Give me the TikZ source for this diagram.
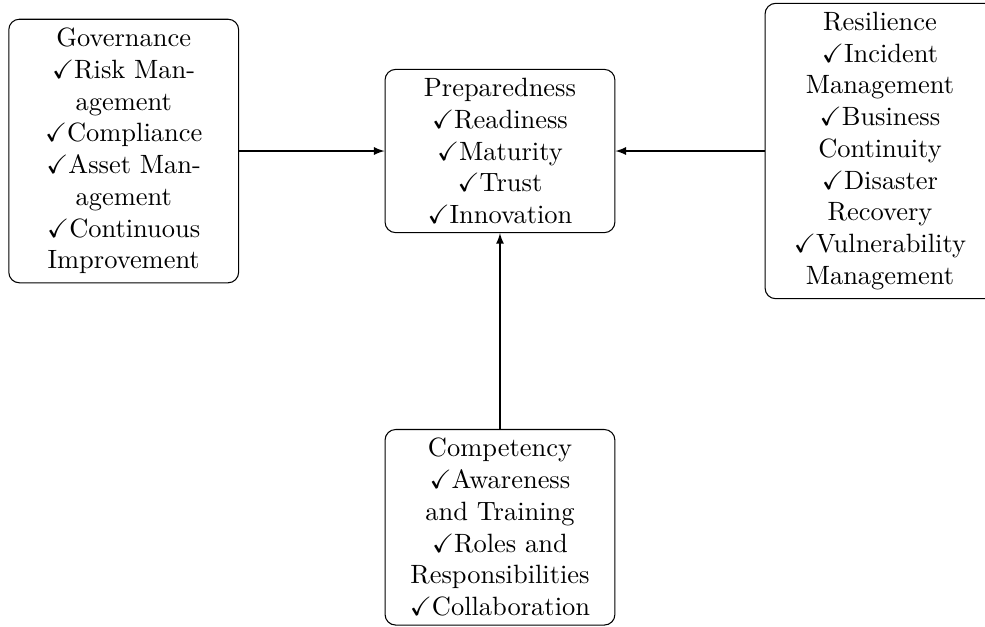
\documentclass[tikz,border=0pt]{standalone}
\usepackage{amssymb}
\usetikzlibrary{arrows}
\begin{document}
\begin{tikzpicture}[
  box/.style={draw, rounded corners, align=center, text width=2.82cm, line width=0.4pt},
  conn/.style={-latex, line width=0.4pt}
]
\useasboundingbox (-6.644cm,2.007cm) rectangle (6.445cm,-6.324cm);
\node[box] (prep) at (0,0) {Preparedness\\\checkmark Readiness\\\checkmark Maturity\\\checkmark Trust\\\checkmark Innovation};
\node[box] (gov) at (-5,0) {Governance\\\checkmark Risk Man-\\agement\\\checkmark Compliance\\\checkmark Asset Man-\\agement\\\checkmark Continuous\\Improvement};
\node[box] (res) at (5.05,0) {Resilience\\\checkmark Incident\\Management\\\checkmark Business\\Continuity\\\checkmark Disaster\\Recovery\\\checkmark Vulnerability\\Management};
\node[box] (comp) at (0,-5) {Competency\\\checkmark Awareness\\and Training\\\checkmark Roles and\\Responsibilities\\\checkmark Collaboration};
\draw[conn] (gov) -- (prep);
\draw[conn] (res) -- (prep);
\draw[conn] (comp) -- (prep);
\end{tikzpicture}
\end{document}
